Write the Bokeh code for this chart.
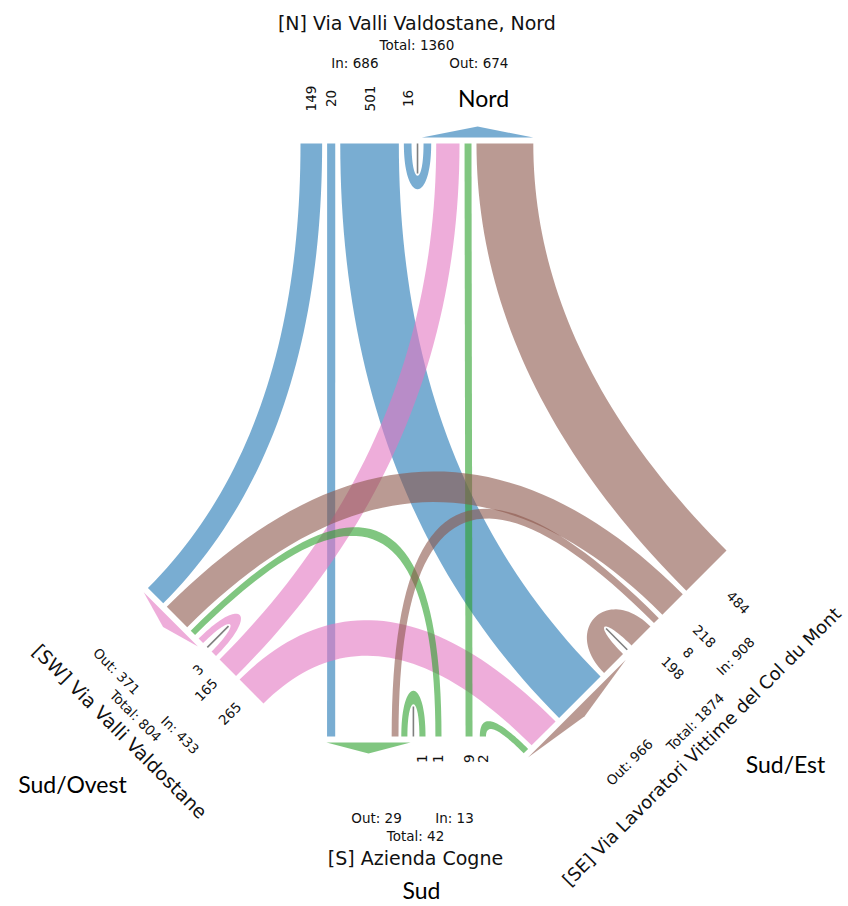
import math
import numpy as np
from bokeh.plotting import figure
from bokeh.models import Range1d
from bokeh.embed import file_html
from bokeh.resources import INLINE
from bokeh.core.properties import value

# ---------------- data ----------------
arms = ["N", "SW", "S", "SE"]
arm_titles = ["[N] Via Valli Valdostane, Nord", "[SW] Via Valli Valdostane",
              "[S] Azienda Cogne", "[SE] Via Lavoratori Vittime del Col du Mont"]
direction_labels = ["Nord", "Sud/Ovest", "Sud", "Sud/Est"]
flow_origin = ["N", "N", "N", "N", "SW", "SW", "SW", "S", "S", "S", "S", "SE", "SE", "SE", "SE"]
flow_dest = ["SW", "S", "SE", "N", "SE", "N", "SW", "SE", "N", "SW", "S", "N", "SW", "S", "SE"]
flow_count = [149, 20, 501, 16, 265, 165, 3, 2, 9, 1, 1, 484, 218, 8, 198]

# ---------------- layout / style ----------------
W, H = 848, 906
R2 = math.sqrt(0.5)
ARM_COLOR = {"N": "#1f77b4", "SW": "#e377c2", "S": "#2ca02c", "SE": "#8c564b"}
ALPHA = 0.6
EDGE_START = {"N": (300.0, 143.0), "SW": (263.0, 703.0), "S": (504.0, 736.0), "SE": (726.0, 550.0)}
EDGE_DIR = {"N": (1.0, 0.0), "SW": (-R2, -R2), "S": (-1.0, 0.0), "SE": (-R2, R2)}
SLOT_ORDER = {
    "N": [("N", "SW"), ("N", "S"), ("N", "SE"), ("N", "N"), ("SW", "N"), ("S", "N"), ("SE", "N")],
    "SW": [("SW", "SE"), ("SW", "N"), ("SW", "SW"), ("S", "SW"), ("SE", "SW"), ("N", "SW")],
    "S": [("S", "SE"), ("S", "N"), ("S", "SW"), ("S", "S"), ("SE", "S"), ("N", "S")],
    "SE": [("SE", "N"), ("SE", "SW"), ("SE", "S"), ("SE", "SE"), ("N", "SE"), ("SW", "SE"), ("S", "SE")],
}
SLOT_GAP = 5.0
FIXED_OFFSETS = {"S": [18.5, 32.0, 63.0, 79.0, 106.0, 169.3]}
FIXED_LENGTH = {"S": 178.0}
INFO_SHIFT = {"N": 62.0, "SW": 45.0, "S": 39.0, "SE": 75.0}
TITLE_SIZE = {"N": "19px", "SW": "19px", "S": "19px", "SE": "18px"}
TITLE_SLIDE = {"N": 0.0, "SW": 0.0, "S": 0.0, "SE": 13.0}
DIR_LABEL_POS = {"N": (483, 97), "SW": (72, 783), "S": (421, 889), "SE": (785, 763)}
LOOP_GAP = 12.0
FONT = "DejaVu Sans"


def band_width(v):
    return 6.0 + 0.105 * v


count = {(o, d): c for o, d, c in zip(flow_origin, flow_dest, flow_count)}


def slot_width(key):
    w = band_width(count[key])
    return 2 * w + LOOP_GAP if key[0] == key[1] else w


slot_off, edge_len = {}, {}
for arm in arms:
    off = 0.0
    for i, key in enumerate(SLOT_ORDER[arm]):
        if arm in FIXED_OFFSETS:
            off = FIXED_OFFSETS[arm][i]
        slot_off[(arm, key)] = off
        off += slot_width(key) + SLOT_GAP
    edge_len[arm] = FIXED_LENGTH.get(arm, off - SLOT_GAP)


def pt(arm, off):
    return np.array(EDGE_START[arm]) + off * np.array(EDGE_DIR[arm])


def normal(arm):
    t = EDGE_DIR[arm]
    return np.array([-t[1], t[0]])


def quad(p0, c, p1, n=48):
    s = np.linspace(0, 1, n)[:, None]
    return (1 - s) ** 2 * p0 + 2 * s * (1 - s) * c + s ** 2 * p1


def cubic(p0, c1, c2, p1, n=48):
    s = np.linspace(0, 1, n)[:, None]
    return (1 - s) ** 3 * p0 + 3 * s * (1 - s) ** 2 * c1 + 3 * s ** 2 * (1 - s) * c2 + s ** 3 * p1


def side(p, na, q, nb):
    det = na[0] * (-nb[1]) - (-nb[0]) * na[1]
    if abs(det) < 1e-6:
        s = np.linspace(0, 1, 2)[:, None]
        return (1 - s) * p + s * q
    su = np.linalg.solve(np.array([na, -nb]).T, q - p)
    if su[0] <= 0 or su[1] <= 0:
        d = np.linalg.norm(q - p) / 3
        return cubic(p, p + na * d, q + nb * d, q)
    return quad(p, p + su[0] * na, q)


def to_data(pts):
    pts = np.asarray(pts)
    return list(pts[:, 0]), list(H - pts[:, 1])


def norm_angle(vec_img):
    a = math.atan2(-vec_img[1], vec_img[0])
    flipped = False
    if a > math.pi / 2 + 1e-6:
        a -= math.pi
        flipped = True
    elif a <= -math.pi / 2 + 1e-6:
        a += math.pi
        flipped = True
    return a, flipped


p = figure(width=W, height=H, x_range=Range1d(0, W), y_range=Range1d(0, H),
           output_backend="svg", toolbar_location=None, x_axis_type=None, y_axis_type=None,
           min_border=0)
p.grid.visible = False
p.outline_line_color = None
p.background_fill_color = "white"
p.border_fill_color = "white"

# ---------------- bands ----------------
xs, ys, cols = [], [], []
gx, gy = [], []
for o, d, c in zip(flow_origin, flow_dest, flow_count):
    w = band_width(c)
    key = (o, d)
    if o == d:
        o0 = slot_off[(o, key)]
        L = 2 * w + LOOP_GAP
        n = normal(o)
        outer = cubic(pt(o, o0), pt(o, o0) + n * 61, pt(o, o0 + L) + n * 61, pt(o, o0 + L))
        inner = cubic(pt(o, o0 + L - w), pt(o, o0 + L - w) + n * 43, pt(o, o0 + w) + n * 43, pt(o, o0 + w))
        poly = np.vstack([outer, inner])
        c0 = pt(o, o0 + L / 2)
        lx, ly = to_data([c0, c0 + n * 30])
        gx.append(lx)
        gy.append(ly)
    else:
        oa = slot_off[(o, key)]
        ob = slot_off[(d, key)]
        na, nb = normal(o), normal(d)
        s1 = side(pt(o, oa), na, pt(d, ob + w), nb)
        s2 = side(pt(o, oa + w), na, pt(d, ob), nb)
        poly = np.vstack([s1, s2[::-1]])
    x_, y_ = to_data(poly)
    xs.append(x_)
    ys.append(y_)
    cols.append(ARM_COLOR[o])

p.patches(xs, ys, fill_color=cols, fill_alpha=ALPHA, line_color=None)
p.multi_line(gx, gy, line_color="#7f7f7f", line_width=1.6)

# ---------------- arrows ----------------
axs, ays, acols = [], [], []
for arm in arms:
    L = edge_len[arm]
    n = normal(arm)
    a0 = pt(arm, L / 2 + 5) - n * 6
    a1 = pt(arm, L) - n * 6
    apex = pt(arm, (L / 2 + 5 + L) / 2) - n * 17
    x_, y_ = to_data([a0, apex, a1])
    axs.append(x_)
    ays.append(y_)
    acols.append(ARM_COLOR[arm])
p.patches(axs, ays, fill_color=acols, fill_alpha=ALPHA, line_color=None)

# ---------------- flow value labels ----------------
for o, d, c in zip(flow_origin, flow_dest, flow_count):
    w = band_width(c)
    o0 = slot_off[(o, (o, d))]
    n = normal(o)
    ang, flipped = norm_angle(-n)
    if flipped:
        pos = pt(o, o0 + w / 2) - n * 18
        align = "right"
    else:
        pos = pt(o, o0 + w / 2) - n * 45
        align = "center"
    p.text(x=[pos[0]], y=[H - pos[1]], text=[str(c)], angle=ang, text_align=align,
           text_baseline="middle", text_font=value(FONT), text_font_size="13.5px",
           text_color="#111111")

# ---------------- arm info ----------------
for arm, title, dlab in zip(arms, arm_titles, direction_labels):
    L = edge_len[arm]
    n = normal(arm)
    t = np.array(EDGE_DIR[arm])
    ctr = pt(arm, L / 2)
    ang, _ = norm_angle(t)
    tot_in = sum(c for o, c in zip(flow_origin, flow_count) if o == arm)
    tot_out = sum(c for d, c in zip(flow_dest, flow_count) if d == arm)
    k = INFO_SHIFT[arm]
    items = [
        (ctr - n * 121 + t * TITLE_SLIDE[arm], title, TITLE_SIZE[arm]),
        (ctr - n * 99, "Total: %d" % (tot_in + tot_out), "13.5px"),
        (ctr - n * 81 - t * k, "In: %d" % tot_in, "13.5px"),
        (ctr - n * 81 + t * k, "Out: %d" % tot_out, "13.5px"),
    ]
    for pos, txt, fs in items:
        p.text(x=[pos[0]], y=[H - pos[1]], text=[txt], angle=ang, text_align="center",
               text_baseline="middle", text_font=value(FONT), text_font_size=fs,
               text_color="#111111")
    lx, ly = DIR_LABEL_POS[arm]
    p.text(x=[lx], y=[H - ly], text=[dlab], text_align="center", text_baseline="middle",
           text_font=value("Lato"), text_font_size="23px", text_color="black")

open("out.html", "w").write(file_html(p, INLINE))
